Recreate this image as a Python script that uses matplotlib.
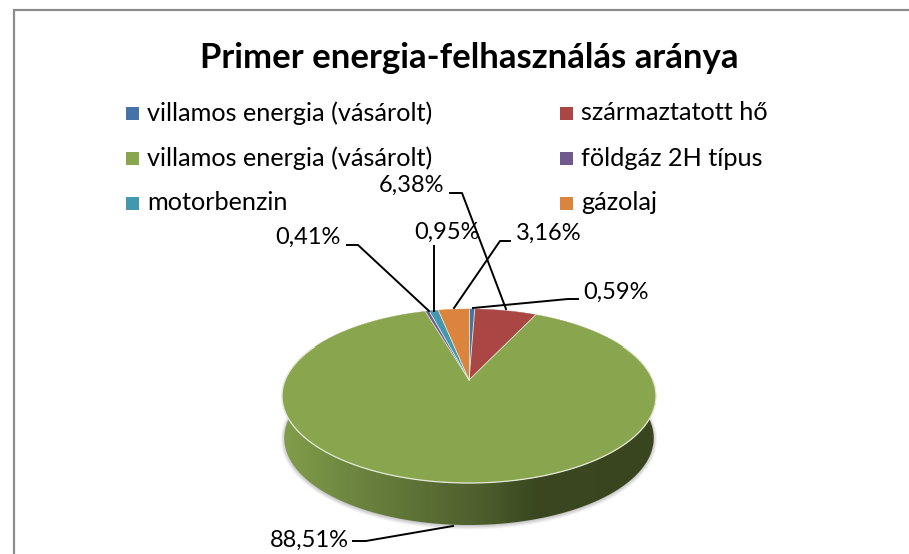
import numpy as np
import matplotlib
matplotlib.use('Agg')
import matplotlib.pyplot as plt
from matplotlib.patches import Polygon, Rectangle
from matplotlib.colors import LinearSegmentedColormap

title = 'Primer energia-felhasználás aránya'
categories = ['villamos energia (vásárolt)', 'származtatott hő', 'villamos energia (vásárolt)',
              'földgáz 2H típus', 'motorbenzin', 'gázolaj']
values = [0.59, 6.38, 88.51, 0.41, 0.95, 3.16]
labels = ['0,59%', '6,38%', '88,51%', '0,41%', '0,95%', '3,16%']
colors = ['#4572A7', '#AA4643', '#89A54E', '#71588F', '#4198AF', '#DB843D']

plt.rcParams['font.family'] = ['Lato', 'DejaVu Sans']
W, H = 909, 554
fig = plt.figure(figsize=(W/100, H/100), dpi=100)
ax = fig.add_axes([0, 0, 1, 1])
ax.set_xlim(0, W); ax.set_ylim(H, 0); ax.axis('off')

# frame: only the top and left edges fall inside the picture
ax.plot([W, 13.5, 13.5], [9.5, 9.5, H], color='#8c8c8c', lw=1.6, solid_joinstyle='miter', zorder=1)
ax.text(469, 58, title, ha='center', va='center', fontsize=25, fontweight='bold', color='black')

# legend
leg_pos = [(126, 113), (560, 113), (126, 158), (560, 158), (126, 203), (560, 203)]
for (x, y), c, t in zip(leg_pos, colors, categories):
    ax.add_patch(Rectangle((x, y-6.5), 13, 13, fc=c, ec='none'))
    ax.text(x+21, y, t, ha='left', va='center', fontsize=18.2, color='black')

# perspective pie
X0, Y0, A, B, K = 469, 380, 84.06, 183.8, 0.184
def proj(theta):
    u, v = np.sin(theta), np.cos(theta)
    return X0 + B*u/(1+K*v), Y0 - A*v/(1+K*v)

t = np.linspace(0, 2*np.pi, 500)
sx, sy = proj(t)
depth = 42
inset = 0.988
bx = X0 + (sx - X0)*inset

# soft shadow under the side wall
for lw, a in [(5, 0.10), (3.5, 0.14), (2, 0.2)]:
    ax.add_patch(Polygon(np.c_[bx, sy+depth+1], fc='#b5b5b5', ec='#9a9a9a', lw=lw, alpha=a, zorder=2))

m = (t > np.pi/2-0.45) & (t < 3*np.pi/2+0.45)
side = Polygon(np.c_[np.r_[sx[m], bx[m][::-1]], np.r_[sy[m], sy[m][::-1]+depth]],
               fc='none', ec='none', zorder=3)
ax.add_patch(side)
cm = LinearSegmentedColormap.from_list('s', [(0, '#829e4a'), (0.15, '#718a42'), (0.35, '#5e7337'),
                                             (0.55, '#4b5c2b'), (0.68, '#3a4720'), (1, '#39451f')])
im = ax.imshow(np.linspace(0, 1, 256)[None, :], cmap=cm, extent=(282, 656, 530, 390), aspect='auto', zorder=3)
im.set_clip_path(side)
ax.set_xlim(0, W); ax.set_ylim(H, 0)

# top surface
cum = np.r_[0, np.cumsum(values)] / np.sum(values) * 2*np.pi
for i, c in enumerate(colors):
    th = np.linspace(cum[i], cum[i+1], max(3, int(values[i]*4)))
    px, py = proj(th)
    ax.add_patch(Polygon(np.c_[np.r_[X0, px], np.r_[Y0, py]], fc=c, ec=c, lw=0.3, zorder=4))
for angle in cum[:-1]:
    px, py = proj(angle)
    ax.plot([X0, px], [Y0, py], color='#e4ead8', lw=0.6, zorder=4)
ax.plot(sx[m], sy[m], color='#e4ead8', lw=0.9, zorder=4)

# data labels and leaders
lab_xy = [(616, 292), (412, 185), (309, 540), (308, 237), (447, 232), (549, 233)]
leaders = [
    [(473, 308), (568, 299), (578, 299)],
    [(450, 193), (462, 193), (506, 309)],
    [(453, 526), (366, 541), (353, 541)],
    [(429, 311), (358, 245), (347, 245)],
    [(434, 311), (434, 246)],
    [(454, 308), (500, 241), (510, 241)],
]
for (x, y), t_ in zip(lab_xy, labels):
    ax.text(x, y, t_, ha='center', va='center', fontsize=17, color='black', zorder=6)
for l in leaders:
    a = np.array(l)
    ax.plot(a[:, 0], a[:, 1], color='black', lw=1.4, zorder=5)

fig.savefig('out.png', dpi=100)
